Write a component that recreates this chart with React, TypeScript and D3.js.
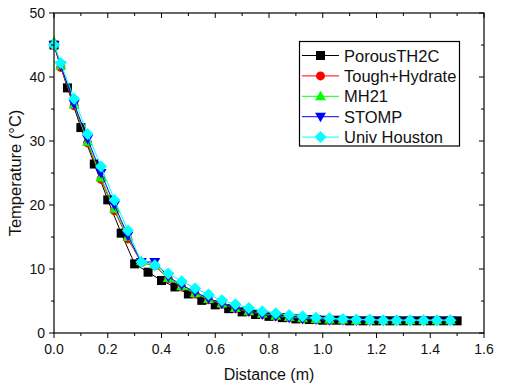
import React from "react";
import * as d3 from "d3";

const xBlack = [0, 0.05, 0.1, 0.15, 0.2, 0.25, 0.3, 0.35, 0.4, 0.45, 0.5, 0.55, 0.6, 0.65, 0.7, 0.75, 0.8, 0.85, 0.9, 0.95, 1.0, 1.05, 1.1, 1.15, 1.2, 1.25, 1.3, 1.35, 1.4, 1.45, 1.5];
const porous = [45, 38.3, 32.1, 26.4, 20.8, 15.6, 10.8, 9.5, 8.2, 7.2, 6.1, 5.1, 4.4, 3.8, 3.3, 2.9, 2.6, 2.4, 2.2, 2.1, 2.0, 2.0, 1.9, 1.9, 1.9, 1.9, 1.9, 1.9, 1.9, 1.9, 1.9];

const xOthers = [0, 0.025, 0.075, 0.125, 0.175, 0.225, 0.275, 0.325, 0.375, 0.425, 0.475, 0.525, 0.575, 0.625, 0.675, 0.725, 0.775, 0.825, 0.875, 0.925, 0.975, 1.025, 1.075, 1.125, 1.175, 1.225, 1.275, 1.325, 1.375, 1.425, 1.475];
const tough = [45, 41.5, 35.5, 29.7, 24.0, 19.1, 14.7, 11.0, 10.5, 8.5, 7.2, 6.1, 5.2, 4.5, 3.8, 3.3, 2.9, 2.6, 2.4, 2.2, 2.1, 2.0, 2.0, 2.0, 2.0, 2.0, 2.0, 2.0, 2.0, 2.0, 2.0];
const mh21 = [45.5, 41.8, 35.7, 29.9, 24.3, 19.4, 15.0, 11.2, 10.7, 8.6, 7.3, 6.2, 5.3, 4.6, 3.9, 3.4, 3.0, 2.7, 2.5, 2.3, 2.2, 2.1, 2.1, 2.0, 2.0, 2.0, 2.0, 2.0, 2.0, 2.0, 2.0];
const stomp = [45, 41.8, 35.8, 30.3, 25.0, 20.0, 15.2, 11.1, 11.1, 8.8, 7.5, 6.4, 5.4, 4.6, 3.9, 3.4, 2.9, 2.6, 2.4, 2.2, 2.1, 2.0, 2.0, 1.9, 1.9, 1.9, 1.9, 1.9, 1.9, 1.9, 1.9];
const houston = [45, 42.2, 36.6, 31.1, 26.0, 20.8, 16.0, 11.1, 10.6, 9.3, 8.1, 7.0, 6.0, 5.1, 4.5, 3.9, 3.4, 3.1, 2.8, 2.6, 2.4, 2.3, 2.2, 2.1, 2.1, 2.0, 2.0, 2.0, 2.0, 2.0, 2.0];

const seriesNames = ["PorousTH2C", "Tough+Hydrate", "MH21", "STOMP", "Univ Houston"];
const seriesColors = ["#000000", "#ff0000", "#00ff00", "#0000ff", "#00ffff"];
const seriesShapes = ["square", "circle", "triangle", "triangleDown", "diamond"];

const xTicks = [0, 0.2, 0.4, 0.6, 0.8, 1.0, 1.2, 1.4, 1.6];
const yTicks = [0, 10, 20, 30, 40, 50];

const W = 506, H = 392;
const L = 54, R = 484, T = 13, B = 333;
const FONT = "Arial, 'Liberation Sans', sans-serif";

function Marker({ shape, x, y, color }: { shape: string; x: number; y: number; color: string }) {
  if (shape === "square") return <rect x={x - 4.5} y={y - 4.5} width={9} height={9} fill={color} />;
  if (shape === "circle") return <circle cx={x} cy={y} r={4.5} fill={color} />;
  if (shape === "triangle") return <path d={`M${x},${y - 5.5}L${x + 5.5},${y + 4}L${x - 5.5},${y + 4}Z`} fill={color} />;
  if (shape === "triangleDown") return <path d={`M${x},${y + 5.5}L${x + 5.5},${y - 4}L${x - 5.5},${y - 4}Z`} fill={color} />;
  return <path d={`M${x},${y - 6}L${x + 6},${y}L${x},${y + 6}L${x - 6},${y}Z`} fill={color} />;
}

export default function App() {
  const x = d3.scaleLinear().domain([0, 1.6]).range([L, R]);
  const y = d3.scaleLinear().domain([0, 50]).range([B, T]);
  const xs = [xBlack, xOthers, xOthers, xOthers, xOthers];
  const ys = [porous, tough, mh21, stomp, houston];
  const line = d3.line<[number, number]>().x(d => x(d[0])).y(d => y(d[1]));
  const xMinor = d3.range(0, 1.61, 0.1);
  const yMinor = d3.range(0, 50.1, 5);

  return (
    <svg width={W} height={H} style={{ position: "absolute", left: 0, top: 0 }} fontFamily={FONT}>
      <rect width={W} height={H} fill="#fff" />
      {ys.map((vals, si) => {
        const pts: [number, number][] = vals.map((v, i) => [xs[si][i], v]);
        return (
          <g key={si}>
            <path d={line(pts) || ""} fill="none" stroke={seriesColors[si]} strokeWidth={1} />
            {pts.map((p, i) => (
              <Marker key={i} shape={seriesShapes[si]} x={x(p[0])} y={y(p[1])} color={seriesColors[si]} />
            ))}
          </g>
        );
      })}
      <rect x={L} y={T} width={R - L} height={B - T} fill="none" stroke="#000" strokeWidth={1.2} />
      {xMinor.map((t, i) => {
        const major = i % 2 === 0;
        const len = major ? 5 : 3;
        return (
          <g key={"xt" + i}>
            <line x1={x(t)} x2={x(t)} y1={B} y2={B + len} stroke="#000" />
            <line x1={x(t)} x2={x(t)} y1={T} y2={T + len} stroke="#000" />
          </g>
        );
      })}
      {yMinor.map((t, i) => {
        const major = i % 2 === 0;
        const len = major ? 5 : 3;
        return (
          <g key={"yt" + i}>
            <line x1={L - len} x2={L} y1={y(t)} y2={y(t)} stroke="#000" />
            <line x1={R - len} x2={R} y1={y(t)} y2={y(t)} stroke="#000" />
          </g>
        );
      })}
      {xTicks.map((t, i) => (
        <text key={"xl" + i} x={x(t)} y={354} fontSize={14} textAnchor="middle" fill="#111">
          {t.toFixed(1)}
        </text>
      ))}
      {yTicks.map((t, i) => (
        <text key={"yl" + i} x={L - 9} y={y(t) + 5} fontSize={14} textAnchor="end" fill="#111">
          {t}
        </text>
      ))}
      <text x={x(0.8)} y={380} fontSize={16} textAnchor="middle" fill="#111">Distance (m)</text>
      <text transform={`translate(21,${(T + B) / 2}) rotate(-90)`} fontSize={16.5} textAnchor="middle" fill="#111">
        Temperature (°C)
      </text>
      <rect x={299.5} y={41.5} width={160} height={104.5} fill="#fff" stroke="#000" strokeWidth={1.2} />
      {seriesNames.map((n, i) => {
        const ly = 55.5 + i * 20.4;
        return (
          <g key={"lg" + i}>
            <line x1={302} x2={339} y1={ly} y2={ly} stroke={seriesColors[i]} strokeWidth={1} />
            <Marker shape={seriesShapes[i]} x={320.5} y={ly} color={seriesColors[i]} />
            <text x={344} y={ly + 6} fontSize={16.5} fill="#111">{n}</text>
          </g>
        );
      })}
    </svg>
  );
}
